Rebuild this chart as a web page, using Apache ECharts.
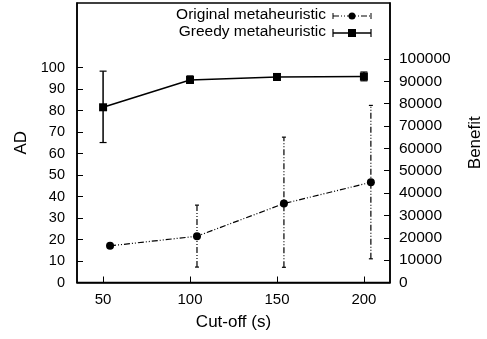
<!DOCTYPE html>
<html>
<head>
<meta charset="utf-8">
<script src="https://cdn.jsdelivr.net/npm/echarts@6/dist/echarts.min.js"></script>
<style>
  html, body { margin: 0; padding: 0; background: #fff; }
  #chart { width: 487px; height: 339px; }
</style>
</head>
<body>
<div id="chart"></div>
<script>
// x positions (cut-off in seconds); original series is drawn slightly offset
const greedyX = [50, 100, 150, 200];
const originalX = [54, 104, 154, 204];

// Greedy metaheuristic (AD axis)
const greedyMean = [81.5, 94.2, 95.6, 95.8];
const greedyLow = [65.1, 92.7, 94.0, 93.8];
const greedyHigh = [98.3, 96.1, 97.1, 97.9];

// Original metaheuristic (Benefit axis)
const originalMean = [16400, 20700, 35300, 44800];
const originalLow = [null, 6900, 6800, 10600];
const originalHigh = [null, 34600, 65000, 79200];

const xTicks = [50, 100, 150, 200];
const adTicks = [0, 10, 20, 30, 40, 50, 60, 70, 80, 90, 100];
const benefitTicks = [0, 10000, 20000, 30000, 40000, 50000, 60000, 70000, 80000, 90000, 100000];

const FONT = 'Liberation Sans, Arial, Helvetica, sans-serif';
const dashOriginal = [6, 2, 1, 2, 1, 2];

function errorBarSeries(xs, lows, highs, yAxisIndex, capHalf, lineStyle) {
  const data = xs.map((x, i) => [x, lows[i], highs[i]]).filter(d => d[1] !== null);
  return {
    type: 'custom',
    yAxisIndex,
    silent: true,
    z: 3,
    data,
    encode: { x: 0, y: [1, 2] },
    renderItem: function (params, api) {
      const lo = api.coord([api.value(0), api.value(1)]);
      const hi = api.coord([api.value(0), api.value(2)]);
      return {
        type: 'group',
        children: [
          { type: 'line', shape: { x1: lo[0], y1: lo[1], x2: hi[0], y2: hi[1] }, style: lineStyle },
          { type: 'line', shape: { x1: lo[0] - capHalf, y1: lo[1], x2: lo[0] + capHalf, y2: lo[1] }, style: { stroke: '#000', lineWidth: 1.2 } },
          { type: 'line', shape: { x1: hi[0] - capHalf, y1: hi[1], x2: hi[0] + capHalf, y2: hi[1] }, style: { stroke: '#000', lineWidth: 1.2 } }
        ]
      };
    }
  };
}

const chart = echarts.init(document.getElementById('chart'), null, { renderer: 'canvas' });

const axisLine = { show: true, lineStyle: { color: '#000', width: 1.5 } };
const axisTick = { show: true, inside: true, length: 6, lineStyle: { color: '#000', width: 1 } };
const nameStyle = { fontSize: 17, color: '#000', fontFamily: FONT };

// legend samples (drawn by hand, gnuplot style)
const legendFont = '15.5px ' + FONT;
const legendGraphic = [
  { type: 'text', right: 487 - 326, top: 7, style: { text: 'Original metaheuristic', font: legendFont, fill: '#000' } },
  { type: 'text', right: 487 - 326, top: 24, style: { text: 'Greedy metaheuristic', font: legendFont, fill: '#000' } },
  { type: 'line', shape: { x1: 333, y1: 16, x2: 371, y2: 16 }, style: { stroke: '#000', lineWidth: 1.2, lineDash: dashOriginal } },
  { type: 'line', shape: { x1: 333, y1: 13, x2: 333, y2: 19 }, style: { stroke: '#000', lineWidth: 1 } },
  { type: 'line', shape: { x1: 371, y1: 13, x2: 371, y2: 19 }, style: { stroke: '#000', lineWidth: 1 } },
  { type: 'circle', shape: { cx: 352, cy: 16, r: 3.5 }, style: { fill: '#000' } },
  { type: 'line', shape: { x1: 333, y1: 33, x2: 371, y2: 33 }, style: { stroke: '#000', lineWidth: 1.5 } },
  { type: 'line', shape: { x1: 333, y1: 29, x2: 333, y2: 37 }, style: { stroke: '#000', lineWidth: 1.2 } },
  { type: 'line', shape: { x1: 371, y1: 29, x2: 371, y2: 37 }, style: { stroke: '#000', lineWidth: 1.2 } },
  { type: 'rect', shape: { x: 348, y: 29, width: 8, height: 8 }, style: { fill: '#000' } }
];

chart.setOption({
  animation: false,
  backgroundColor: '#fff',
  textStyle: { fontFamily: FONT },
  grid: {
    left: 77, right: 97, top: 3, bottom: 56.5,
    containLabel: false,
    outerBoundsMode: 'none',
    show: true, borderColor: '#000', borderWidth: 1.5, backgroundColor: 'transparent'
  },
  graphic: legendGraphic,
  xAxis: {
    type: 'value',
    min: 35,
    max: 215,
    name: 'Cut-off (s)',
    nameLocation: 'middle',
    nameGap: 31,
    nameTextStyle: nameStyle,
    axisLine,
    axisTick: { ...axisTick, customValues: xTicks },
    axisLabel: { customValues: xTicks, fontSize: 15, color: '#000', fontFamily: FONT, margin: 10 },
    splitLine: { show: false }
  },
  yAxis: [
    {
      type: 'value',
      min: 0,
      max: 130,
      name: 'AD',
      nameLocation: 'middle',
      nameRotate: 90,
      nameGap: 44,
      nameTextStyle: nameStyle,
      axisLine,
      axisTick: { ...axisTick, customValues: adTicks },
      axisLabel: { customValues: adTicks, fontSize: 14.5, color: '#000', fontFamily: FONT, margin: 12 },
      splitLine: { show: false }
    },
    {
      type: 'value',
      min: 0,
      max: 125000,
      position: 'right',
      name: 'Benefit',
      nameLocation: 'middle',
      nameRotate: 90,
      nameGap: 77,
      nameTextStyle: nameStyle,
      axisLine,
      axisTick: { ...axisTick, customValues: benefitTicks },
      axisLabel: {
        customValues: benefitTicks, fontSize: 15.5, color: '#000', fontFamily: FONT, margin: 9,
        formatter: v => String(v)
      },
      splitLine: { show: false }
    }
  ],
  series: [
    errorBarSeries(greedyX, greedyLow, greedyHigh, 0, 3.5, { stroke: '#000', lineWidth: 1.5 }),
    errorBarSeries(originalX, originalLow, originalHigh, 1, 2, { stroke: '#000', lineWidth: 1.2, lineDash: dashOriginal }),
    {
      name: 'Greedy metaheuristic',
      type: 'line',
      yAxisIndex: 0,
      data: greedyX.map((x, i) => [x, greedyMean[i]]),
      symbol: 'rect',
      symbolSize: 8,
      itemStyle: { color: '#000' },
      lineStyle: { color: '#000', width: 1.5 },
      z: 4
    },
    {
      name: 'Original metaheuristic',
      type: 'line',
      yAxisIndex: 1,
      data: originalX.map((x, i) => [x, originalMean[i]]),
      symbol: 'circle',
      symbolSize: 8,
      itemStyle: { color: '#000' },
      lineStyle: { color: '#000', width: 1.2, type: dashOriginal },
      z: 4
    }
  ]
});
</script>
</body>
</html>
